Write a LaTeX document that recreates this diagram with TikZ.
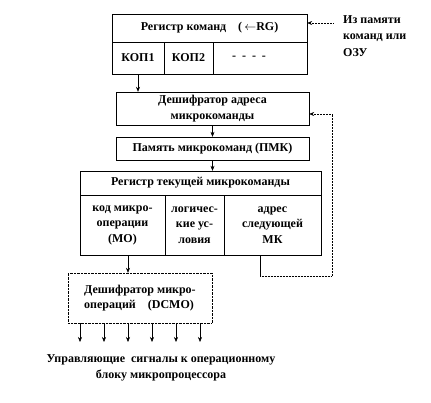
\documentclass[tikz,border=0pt]{standalone}
\usepackage{fontspec}
\setmainfont{Liberation Serif}
\usetikzlibrary{arrows.meta,positioning}

\tikzset{
  blk/.style={draw, inner sep=1pt, align=center, font=\bfseries\fontsize{12}{15.5}\selectfont},
  arr/.style={-{Stealth[length=5pt,width=4pt]}, line width=0.5pt},
  lbl/.style={inner sep=0pt, align=center, font=\bfseries\fontsize{12}{16.5}\selectfont}
}

\begin{document}
\begin{tikzpicture}[x=1pt,y=-1pt]
\useasboundingbox (0,0) rectangle (431,403);

% Register of commands
\node[blk, minimum width=195, minimum height=28] (hdr) at (209.5,28) {Регистр команд\quad(\,$\leftarrow$RG)};
\node[blk, minimum width=52, minimum height=32] (kop1) at (138,58) {КОП1};
\node[blk, minimum width=49, minimum height=32] (kop2) at (188.5,58) {КОП2};
\node[blk, minimum width=94, minimum height=32] (rest) at (260,58) {\hspace*{-22pt}\raisebox{-3pt}{-\ \ -\ \ -\ \ -}};

% Source of commands
\node[lbl, align=left, anchor=west] (src) at (343,36) {Из памяти\\команд или\\ОЗУ};
\coordinate (srcin) at (333,23);
\draw[arr, densely dotted] (srcin) -- (srcin -| hdr.east);

% Decoder and memory
\node[blk, minimum width=193, minimum height=33] (dcadr) at (212.5,108.5) {Дешифратор адреса\\микрокоманды};
\node[blk, minimum width=193, minimum height=23] (pmk) at (212.5,148.5) {Память микрокоманд (ПМК)};

% Register of current microcommand
\node[blk, minimum width=241, minimum height=24] (rtmk) at (200.5,183) {Регистр текущей микрокоманды};
\node[blk, minimum width=85, minimum height=60] (mo) at (122.5,225) {код микро-\\операции\\(МО)};
\node[blk, minimum width=59, minimum height=60] (lu) at (194.5,225) {логичес-\\кие ус-\\ловия};
\node[blk, minimum width=97, minimum height=60] (adr) at (272.5,225) {адрес\\следующей\\МК};

% Microoperation decoder
\node[blk, densely dotted, minimum width=144, minimum height=50, align=left] (dcmo) at (140,298) {\begin{tabular}{@{}l@{}}Дешифратор микро-\\операций\quad(DCMO)\end{tabular}};

\node[lbl] (out) at (161,368) {Управляющие\ \ сигналы к операционному\\блоку микропроцессора};

% Connectors
\draw[arr] (kop1.south) -- (kop1.south |- dcadr.north);
\draw[arr] (dcadr.south) -- (pmk.north);
\draw[arr] (pmk.south) -- (pmk.south |- rtmk.north);
\draw[arr] ([xshift=5.5pt]mo.south) -- ([xshift=5.5pt]mo.south |- dcmo.north);

% Feedback to address decoder
\coordinate (fbout) at ([xshift=-12.5pt]adr.south);
\coordinate (fbturn) at (332,276);
\coordinate (fbin) at ([yshift=-5.5pt]dcadr.east);
\draw (fbout) -- (fbout |- fbturn);
\draw[arr, densely dotted] (fbout |- fbturn) -- (fbturn) -- (fbturn |- fbin) -- (fbin);

% Control signals
\foreach \i in {0,...,5} {
  \coordinate (sig\i) at (80+24*\i,342);
  \draw[arr] (sig\i |- dcmo.south) -- (sig\i);
}
\end{tikzpicture}
\end{document}
